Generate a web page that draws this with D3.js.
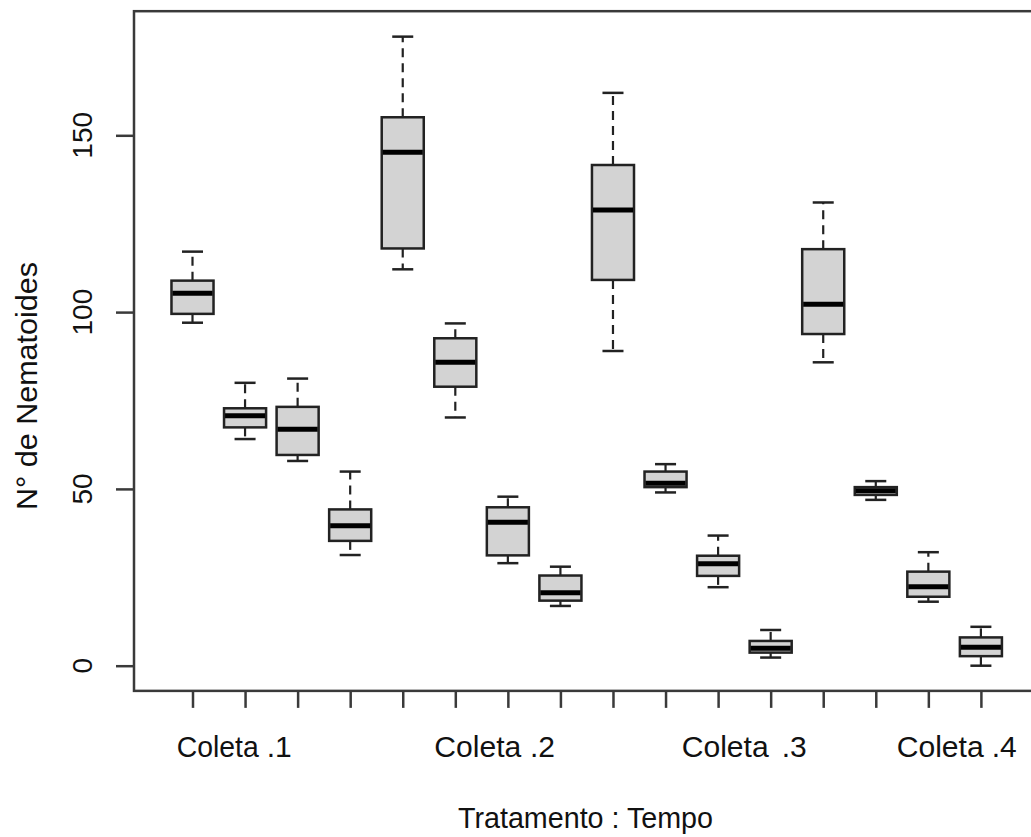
<!DOCTYPE html>
<html>
<head>
<meta charset="utf-8">
<script src="https://cdn.jsdelivr.net/npm/d3@7"></script>
<style>
  html, body { margin: 0; padding: 0; background: #ffffff; }
  svg { display: block; font-family: "Liberation Sans", Arial, Helvetica, sans-serif; }
</style>
</head>
<body>
<svg id="chart" width="1031" height="837"></svg>
<script>
// ---- data ----
const groups = ["Coleta .1", "Coleta .2", "Coleta .3", "Coleta .4"];
const boxIndex = [1, 2, 3, 4, 5, 6, 7, 8, 9, 10, 11, 12, 13, 14, 15, 16];
const whiskerLow  = [97.0, 64.1, 57.9, 31.3, 112.1, 70.2, 29.0, 16.9, 89.0, 49.0, 22.2, 2.3, 85.8, 46.9, 18.1, 0.0];
const quartile1   = [99.5, 67.4, 59.6, 35.3, 118.0, 78.9, 31.2, 18.4, 109.1, 50.5, 25.4, 3.7, 93.8, 48.3, 19.5, 2.7];
const medians     = [105.3, 70.7, 66.9, 39.6, 145.2, 85.8, 40.6, 20.6, 128.9, 51.6, 28.8, 4.9, 102.2, 49.5, 22.3, 5.2];
const quartile3   = [108.9, 72.8, 73.2, 44.2, 155.1, 92.6, 44.8, 25.5, 141.6, 54.9, 31.1, 7.0, 117.8, 50.5, 26.6, 8.0];
const whiskerHigh = [117.1, 80.0, 81.2, 54.9, 177.9, 96.8, 47.8, 28.0, 162.0, 57.0, 36.8, 10.1, 131.0, 52.2, 32.1, 11.0];
const yTicks = [0, 50, 100, 150];
const xTitle = "Tratamento : Tempo";
const yTitle = "N° de Nematoides";

// ---- layout ----
const svg = d3.select("#chart");
svg.append("rect").attr("width", 1031).attr("height", 837).attr("fill", "#fff");

const x = d3.scaleLinear().domain([1, 16]).range([192.5, 980.9]);
const unit = x(2) - x(1);
const y = d3.scaleLinear().domain([0, 150]).range([665.7, 135.3]);
const xLim = [-0.113, 17.113];
const yLim = [-7.12, 185.1];

const boxes = boxIndex.map((b, i) => ({
  pos: b, lo: whiskerLow[i], q1: quartile1[i], med: medians[i], q3: quartile3[i], hi: whiskerHigh[i]
}));

const axisColor = "#3a3a3a";

// axes (ticks only, from D3 axis generators)
const gy = svg.append("g").attr("transform", `translate(${x(xLim[0])},0)`)
  .call(d3.axisLeft(y).tickValues(yTicks).tickSize(18).tickFormat(""));
const gx = svg.append("g").attr("transform", `translate(0,${y(yLim[0])})`)
  .call(d3.axisBottom(x).tickValues(boxIndex).tickSize(17).tickFormat(""));
[gy, gx].forEach(g => {
  g.select(".domain").remove();
  g.selectAll(".tick line").attr("stroke", axisColor).attr("stroke-width", 2.5);
});

// y tick labels (rotated, as in R)
svg.append("g").selectAll("text").data(yTicks).join("text")
  .attr("transform", d => `translate(92,${y(d)}) rotate(-90)`)
  .attr("text-anchor", "middle")
  .attr("font-size", 28)
  .attr("fill", "#111")
  .text(d => d);

// boxes
const bw = 0.8 * unit;
const cw = 0.4 * unit;
const gb = svg.append("g");
const g = gb.selectAll("g.box").data(boxes).join("g").attr("class", "box");

g.append("line") // upper whisker
  .attr("x1", d => x(d.pos)).attr("x2", d => x(d.pos))
  .attr("y1", d => y(d.q3)).attr("y2", d => y(d.hi))
  .attr("stroke", "#222").attr("stroke-width", 2.2).attr("stroke-dasharray", "9,6");
g.append("line") // lower whisker
  .attr("x1", d => x(d.pos)).attr("x2", d => x(d.pos))
  .attr("y1", d => y(d.q1)).attr("y2", d => y(d.lo))
  .attr("stroke", "#222").attr("stroke-width", 2.2).attr("stroke-dasharray", "9,6");
g.append("line") // upper cap
  .attr("x1", d => x(d.pos) - cw / 2).attr("x2", d => x(d.pos) + cw / 2)
  .attr("y1", d => y(d.hi)).attr("y2", d => y(d.hi))
  .attr("stroke", "#222").attr("stroke-width", 2.5);
g.append("line") // lower cap
  .attr("x1", d => x(d.pos) - cw / 2).attr("x2", d => x(d.pos) + cw / 2)
  .attr("y1", d => y(d.lo)).attr("y2", d => y(d.lo))
  .attr("stroke", "#222").attr("stroke-width", 2.5);
g.append("rect")
  .attr("x", d => x(d.pos) - bw / 2).attr("width", bw)
  .attr("y", d => y(d.q3)).attr("height", d => y(d.q1) - y(d.q3))
  .attr("fill", "#d3d3d3").attr("stroke", "#222").attr("stroke-width", 2.5);
g.append("line") // median
  .attr("x1", d => x(d.pos) - bw / 2 + 1).attr("x2", d => x(d.pos) + bw / 2 - 1)
  .attr("y1", d => y(d.med)).attr("y2", d => y(d.med))
  .attr("stroke", "#000").attr("stroke-width", 5);

// plot frame
svg.append("rect")
  .attr("x", x(xLim[0])).attr("y", y(yLim[1]))
  .attr("width", x(xLim[1]) - x(xLim[0])).attr("height", y(yLim[0]) - y(yLim[1]))
  .attr("fill", "none").attr("stroke", axisColor).attr("stroke-width", 2.5);

// x group labels (word and suffix placed as in the R output)
const labelWordStart = [0.70, 5.60, 10.307, 14.398];
const labelSuffixEnd = [2.887, 7.897, 12.686, 16.681];
const gl = svg.append("g").attr("font-size", 30).attr("fill", "#111");
groups.forEach((lab, i) => {
  const parts = lab.split(" ");
  gl.append("text").attr("x", x(labelWordStart[i])).attr("y", 757)
    .attr("text-anchor", "start")
    .attr("textLength", i === 0 ? 82 : 87).attr("lengthAdjust", "spacingAndGlyphs")
    .text(parts[0]);
  gl.append("text").attr("x", x(labelSuffixEnd[i])).attr("y", 757)
    .attr("text-anchor", "end").text(parts[1]);
});

// axis titles
svg.append("text")
  .attr("x", 585.5).attr("y", 828)
  .attr("text-anchor", "middle").attr("font-size", 30).attr("fill", "#111")
  .attr("textLength", 255).attr("lengthAdjust", "spacingAndGlyphs")
  .text(xTitle);
svg.append("text")
  .attr("transform", "translate(37,386) rotate(-90)")
  .attr("text-anchor", "middle").attr("font-size", 30).attr("fill", "#111")
  .attr("textLength", 248).attr("lengthAdjust", "spacingAndGlyphs")
  .text(yTitle);
</script>
</body>
</html>
